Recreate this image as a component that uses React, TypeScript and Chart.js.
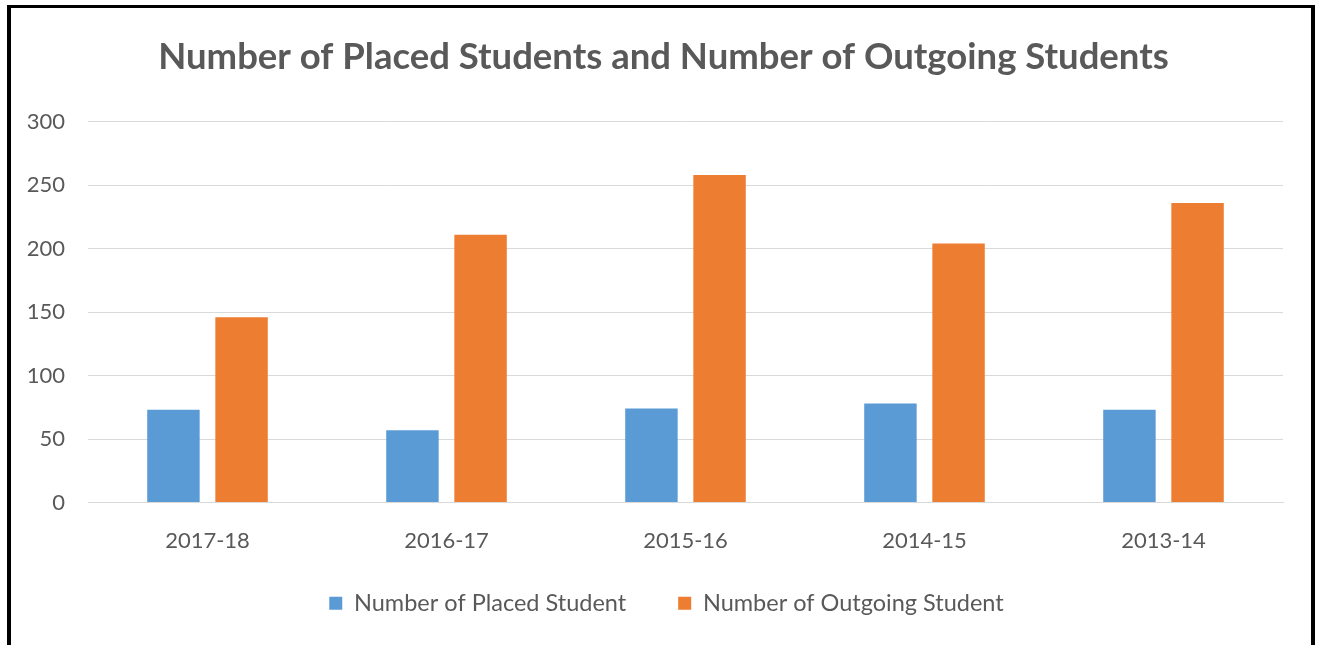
import React, { useEffect, useRef } from "react";
import { Chart, registerables } from "chart.js";

Chart.register(...registerables);

const categories = ["2017-18", "2016-17", "2015-16", "2014-15", "2013-14"];
const placedStudents = [73, 57, 74, 78, 73];
const outgoingStudents = [146, 211, 258, 204, 236];
const seriesNames = ["Number of Placed Student", "Number of Outgoing Student"];
const titleText = "Number of Placed Students and Number of Outgoing Students";

const TEXT = "#595959";
const FONT = "Lato, 'Open Sans', sans-serif";

// nudges the title and legend boxes after layout (horizontal centring / legend row height)
const boxShift = {
  id: "boxShift",
  afterLayout(chart: any) {
    const t = chart.titleBlock;
    if (t) {
      t.left += 22;
      t.right += 22;
    }
    const l = chart.legend;
    if (l) {
      l.left += 25;
      l.right += 25;
      l.top -= 15;
      l.bottom -= 15;
    }
  },
};

export default function App() {
  const ref = useRef<HTMLCanvasElement | null>(null);

  useEffect(() => {
    if (!ref.current) return;
    const chart = new Chart(ref.current, {
      type: "bar",
      data: {
        labels: categories,
        datasets: [
          {
            label: seriesNames[0],
            data: placedStudents,
            backgroundColor: "#5B9BD5",
            borderWidth: 0,
            categoryPercentage: 0.57,
            barPercentage: 0.77,
          },
          {
            label: seriesNames[1],
            data: outgoingStudents,
            backgroundColor: "#ED7D31",
            borderWidth: 0,
            categoryPercentage: 0.57,
            barPercentage: 0.77,
          },
        ],
      },
      plugins: [boxShift],
      options: {
        animation: false,
        responsive: true,
        maintainAspectRatio: false,
        layout: { padding: { left: 0, right: 37, top: 0, bottom: 5 } },
        plugins: {
          title: {
            display: true,
            text: titleText,
            color: TEXT,
            font: { family: FONT, size: 36.5, weight: "bold", lineHeight: 1.2 },
            padding: { top: 35, bottom: 43 },
          },
          legend: {
            display: true,
            position: "bottom",
            labels: {
              color: TEXT,
              font: { family: FONT, size: 23.5 },
              boxWidth: 13,
              boxHeight: 13,
              padding: 52,
            },
          },
          tooltip: { enabled: false },
        },
        scales: {
          x: {
            grid: { display: false, drawTicks: false },
            border: { display: true, color: "#D9D9D9", width: 1 },
            ticks: { color: TEXT, font: { family: FONT, size: 22 }, padding: 25 },
            afterFit: (scale: any) => {
              scale.height = 52;
            },
          },
          y: {
            min: 0,
            max: 300,
            ticks: {
              stepSize: 50,
              color: TEXT,
              font: { family: FONT, size: 22 },
              padding: 23,
            },
            grid: { color: "#D9D9D9", drawTicks: false, lineWidth: 1 },
            border: { display: false },
            afterFit: (scale: any) => {
              scale.width = 88;
            },
          },
        },
      },
    });
    return () => chart.destroy();
  }, []);

  return (
    <div
      style={{
        position: "fixed",
        left: 0,
        top: 0,
        width: 1320,
        height: 645,
        background: "#fff",
        overflow: "hidden",
      }}
    >
      <div style={{ position: "absolute", left: 0, top: 0, width: 1320, height: 645 }}>
        <canvas ref={ref} />
      </div>
      <div
        style={{
          position: "absolute",
          left: 7,
          top: 5,
          width: 1308,
          height: 660,
          borderLeft: "4px solid #000",
          borderTop: "3px solid #000",
          borderRight: "4px solid #000",
          boxSizing: "border-box",
          pointerEvents: "none",
        }}
      />
    </div>
  );
}
